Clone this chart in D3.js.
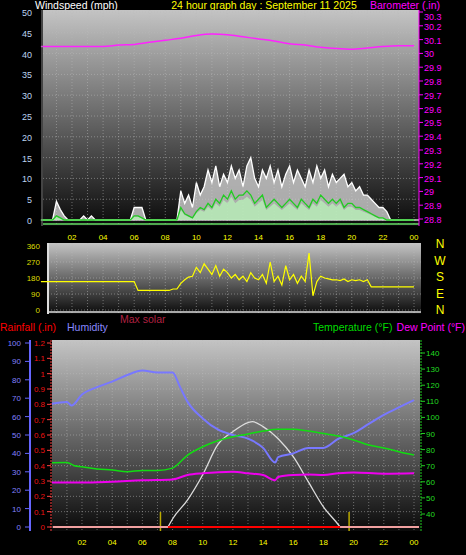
<!DOCTYPE html><html><head><meta charset="utf-8"><script src="https://cdn.jsdelivr.net/npm/d3@7"></script>
<style>body{margin:0;background:#000}svg{display:block}text{font-family:"Liberation Sans",Arial,sans-serif}</style></head><body>
<script>
const hourTicks=[2,4,6,8,10,12,14,16,18,20,22,24];
const hourLabels=["02","04","06","08","10","12","14","16","18","20","22","00"];
const windTicks=[0,5,10,15,20,25,30,35,40,45,50];
const baroTicks=[28.8,28.9,29,29.1,29.2,29.3,29.4,29.5,29.6,29.7,29.8,29.9,30,30.1,30.2,30.3];
const dirTicks=[0,90,180,270,360];
const humTicks=[0,10,20,30,40,50,60,70,80,90,100];
const rainTicks=[0,0.1,0.2,0.3,0.4,0.5,0.6,0.7,0.8,0.9,1,1.1,1.2];
const tempTicks=[40,50,60,70,80,90,100,110,120,130,140];
// quarter-hour wind (mph)
const gust=[0,0,0,0, 4.5,2.5,1,0, 0,0,0,1, 0,1,0,0, 0,0,0,0, 0,0,0,0, 3,3,3,0, 0,0,0,0, 0,0,0,0,
 7,4,6,3, 9,6,8,12, 9,13,8,11, 9,13,10,12, 8,13,15,10, 8,12,10,13, 9,12,8,11, 13,9,12,10, 8,12,9,13,
 10,12,8,11, 9,10,11,8, 9,7,8,6, 6,5,4,3, 3,2,0,0, 0,0,0,0, 0];
const avgWind=[0,0,0,0, 1,0.5,0,0, 0,0,0,0, 0,0,0,0, 0,0,0,0, 0,0,0,0, 1,1,0.5,0, 0,0,0,0, 0,0,0,0,
 3,1.5,1,0.5, 2,3,2.5,4, 3,5,4,6, 5,7,5,6, 6,7,6,4, 5,6,3,4, 5,4,3,4, 5,4,3,5, 4,3,5,4,
 6,5,4,5, 4,5,3,4, 4,3,3,2.5, 2,1.5,1,0.5, 0.5,0,0,0, 0,0,0,0, 0];
const windDir=[160,160,160,160, 160,160,160,160, 160,160,160,160, 160,160,160,160, 160,160,160,160, 160,160,160,160,
 160,110,110,110, 110,110,110,110, 110,110,118,118, 150,170,185,190, 240,210,260,230, 200,250,190,230,
 210,180,200,170, 190,160,210,180, 170,200,150,270, 160,190,140,250, 170,200,150,190, 160,320,80,160,
 190,180,175,170, 170,165,175,160, 170,165,170,160, 170,130,130,130, 130,130,130,130, 130,130,130,130, 130];
const baro=[30.05,30.05,30.05,30.05,30.05,30.06,30.065,30.08,30.095,30.11,30.13,30.14,30.135,30.12,30.105,30.09,30.07,30.06,30.045,30.035,30.03,30.04,30.05,30.055,30.055];
const humHours=[0,1,1.3,2,3,4,5,6,7,8,8.5,9,10,11,12,13,14,14.8,15,16,17,18,19,20,21,22,23,24];
const humidity=[67,68,66,72,76,79,82.6,85,84,84,76,68,59,53,50,48,43,35,38,40,43,43,48,51,56,61,65,69];
const tempHours=[0,1,1.5,2,3,4,5,6,7,8,9,10,11,12,13,14,15,16,17,18,19,20,21,22,23,24];
const temperature=[71.9,72,70,69.4,68,67.3,66.3,67,67,68.5,76.6,81.8,85.5,88,89.7,91.5,92.6,92.6,91.5,90,88.4,86,82.8,81,78.7,76.6];
const dewHours=[0,2,4,6,8,9,10,12,13,14,14.8,15,16,17,18,19,20,22,24];
const dewPoint=[59.5,59.5,60.1,61,61.5,64.2,65.3,66.3,65.3,64.2,61,63,64.2,64.5,64.2,65.3,65.8,65,65.3];
const solarHours=[7.7,8,9,10,11,12,13,13.3,14,15,16,17,18,19,19.1];
const solar=[0,48,162,312,492,570,624,630,600,528,420,270,120,12,0];
const sunMarks=[7.2,19.7];

const W=466,H=555;
const svg=d3.select("body").append("svg").attr("width",W).attr("height",H);
const defs=svg.append("defs");
const g=defs.append("linearGradient").attr("id","bg").attr("x1",0).attr("y1",0).attr("x2",0).attr("y2",1);
g.append("stop").attr("offset",0).attr("stop-color","#c4c4c4");
g.append("stop").attr("offset",1).attr("stop-color","#0a0a0a");
const qh=(a)=>a.map((v,i)=>[i/4,v]);
function txt(x,y,s,c,size,anchor){return svg.append("text").attr("x",x).attr("y",y).attr("fill",c).attr("font-size",size||11).attr("text-anchor",anchor||"start").text(s);}
function panel(x0,x1,y0,y1,xs,yTicks,ys){
 svg.append("rect").attr("x",x0).attr("y",y0).attr("width",x1-x0).attr("height",y1-y0).attr("fill","url(#bg)");
 const gg=svg.append("g").attr("stroke","#bbb").attr("stroke-opacity",0.5).attr("stroke-dasharray","1,2");
 for(let h=1;h<=24;h++){const x=xs(h);if(x>x0&&x<x1)gg.append("line").attr("x1",x).attr("x2",x).attr("y1",y0).attr("y2",y1);}
 yTicks.forEach(v=>gg.append("line").attr("x1",x0).attr("x2",x1).attr("y1",ys(v)).attr("y2",ys(v)));
}
// Titles
txt(35,9,"Windspeed (mph)","#fff",10.5);
txt(264,9,"24 hour graph day : September 11 2025","#ffff00",10.5,"middle");
txt(440,9,"Barometer (.in)","#ff00ff",10.5,"end");
// Panel 1
const x1=d3.scaleLinear().domain([0,24]).range([40.9,414]);
const yW=d3.scaleLinear().domain([0,50]).range([220,12]);
const yB=d3.scaleLinear().domain([28.8,30.3]).range([219,12]);
panel(43,419,10,226,x1,windTicks,yW);
svg.append("line").attr("x1",43).attr("x2",419).attr("y1",yW(0)).attr("y2",yW(0)).attr("stroke","#ccc").attr("stroke-width",1.5);
svg.append("line").attr("x1",43).attr("x2",419).attr("y1",224).attr("y2",224).attr("stroke","#66dd66").attr("stroke-width",1.5);
svg.append("path").datum(qh(gust)).attr("d",d3.area().x(d=>x1(d[0])).y0(yW(0)).y1(d=>yW(d[1]))).attr("fill","#d0d0d0").attr("opacity",0.8);
svg.append("path").datum(qh(gust)).attr("d",d3.line().x(d=>x1(d[0])).y(d=>yW(d[1]))).attr("fill","none").attr("stroke","#fff").attr("stroke-width",1.3);
svg.append("path").datum(qh(avgWind)).attr("d",d3.area().x(d=>x1(d[0])).y0(yW(0)).y1(d=>yW(d[1]*0.8))).attr("fill","#b8f0b8").attr("opacity",0.8);
svg.append("path").datum(qh(avgWind)).attr("d",d3.line().x(d=>x1(d[0])).y(d=>yW(d[1]))).attr("fill","none").attr("stroke","#22cc22").attr("stroke-width",1.3);
svg.append("path").datum(baro).attr("d",d3.line().x((d,i)=>x1(i)).y(d=>yB(d)).curve(d3.curveMonotoneX)).attr("fill","none").attr("stroke","#ff22ff").attr("stroke-width",1.5);
// axes panel 1
svg.append("line").attr("x1",42).attr("x2",42).attr("y1",10).attr("y2",226).attr("stroke","#888");
windTicks.forEach(v=>txt(32,yW(v)+4,v,"#bcd4f0",9,"end"));
svg.append("line").attr("x1",419).attr("x2",419).attr("y1",10).attr("y2",226).attr("stroke","#ff00ff");
baroTicks.forEach(v=>{svg.append("line").attr("x1",419).attr("x2",423).attr("y1",yB(v)).attr("y2",yB(v)).attr("stroke","#ff00ff");txt(424,Math.max(yB(v)+4,20),String(v),"#ff00ff",9);});
hourTicks.forEach((h,i)=>txt(x1(h),240,hourLabels[i],"#ffff00",8,"middle"));
// Panel 2
const yD=d3.scaleLinear().domain([0,360]).range([310,246]);
panel(48,421,243,314,x1,dirTicks,yD);
svg.append("line").attr("x1",48).attr("x2",421).attr("y1",312).attr("y2",312).attr("stroke","#ddd").attr("stroke-width",1.5);
svg.append("line").attr("x1",48).attr("x2",48).attr("y1",243).attr("y2",314).attr("stroke","#ddd").attr("stroke-width",2);
svg.append("path").datum(qh(windDir)).attr("d",d3.line().x(d=>x1(d[0])).y(d=>yD(d[1]))).attr("fill","none").attr("stroke","#ffff00").attr("stroke-width",1.2);
dirTicks.forEach(v=>txt(40,yD(v)+3,v,"#dddd00",8,"end"));
["N","W","S","E","N"].forEach((s,i)=>txt(440,248+i*16.5,s,"#ffff00",12,"middle"));
// Legend row
txt(0,331,"Rainfall (.in)","#ff0000",10.5);
txt(67,331,"Humidity","#8888ff",10.5);
txt(120,323,"Max solar","#b02040",10.5);
txt(313,331,"Temperature (°F)","#00dd00",10.5);
txt(465,331,"Dew Point (°F)","#ff00ff",10.5,"end");
// Panel 3
const x3=d3.scaleLinear().domain([0,24]).range([51.8,414]);
const yH=d3.scaleLinear().domain([0,100]).range([527,343]);
const yR=d3.scaleLinear().domain([0,1.2]).range([527,343]);
const yT=d3.scaleLinear().domain([40,140]).range([514,353]);
const yS=d3.scaleLinear().domain([0,1100]).range([527,343]);
panel(52,420,340,531,x3,rainTicks,yR);
svg.append("path").datum(solarHours.map((h,i)=>[h,solar[i]])).attr("d",d3.line().x(d=>x3(d[0])).y(d=>yS(d[1])).curve(d3.curveMonotoneX)).attr("fill","none").attr("stroke","#ddd").attr("stroke-width",1.3);
sunMarks.forEach(h=>svg.append("line").attr("x1",x3(h)).attr("x2",x3(h)).attr("y1",512).attr("y2",531).attr("stroke","#bbaa00").attr("stroke-width",1.5));
svg.append("line").attr("x1",53).attr("x2",419).attr("y1",yR(0)).attr("y2",yR(0)).attr("stroke","#f0a0a0").attr("stroke-width",2);
svg.append("line").attr("x1",x3(7.7)).attr("x2",x3(19.1)).attr("y1",yR(0)).attr("y2",yR(0)).attr("stroke","#ff0000").attr("stroke-width",2);
svg.append("path").datum(humHours.map((h,i)=>[h,humidity[i]])).attr("d",d3.line().x(d=>x3(d[0])).y(d=>yH(d[1])).curve(d3.curveMonotoneX)).attr("fill","none").attr("stroke","#7878ff").attr("stroke-width",2);
svg.append("path").datum(tempHours.map((h,i)=>[h,temperature[i]])).attr("d",d3.line().x(d=>x3(d[0])).y(d=>yT(d[1])).curve(d3.curveMonotoneX)).attr("fill","none").attr("stroke","#11dd11").attr("stroke-width",1.5);
svg.append("path").datum(dewHours.map((h,i)=>[h,dewPoint[i]])).attr("d",d3.line().x(d=>x3(d[0])).y(d=>yT(d[1])).curve(d3.curveMonotoneX)).attr("fill","none").attr("stroke","#ee00ee").attr("stroke-width",2);
// axes panel 3
svg.append("line").attr("x1",30).attr("x2",30).attr("y1",340).attr("y2",531).attr("stroke","#6666ff").attr("stroke-width",2);
humTicks.forEach(v=>{svg.append("line").attr("x1",25).attr("x2",30).attr("y1",yH(v)).attr("y2",yH(v)).attr("stroke","#6666ff");txt(21,yH(v)+3,v,"#8080ff",8,"end");});
svg.append("line").attr("x1",51).attr("x2",51).attr("y1",340).attr("y2",531).attr("stroke","#ff4444").attr("stroke-dasharray","2,1");
rainTicks.forEach(v=>{svg.append("line").attr("x1",47).attr("x2",51).attr("y1",yR(v)).attr("y2",yR(v)).attr("stroke","#ff4444");txt(45,yR(v)+3,String(v),"#ee1111",8,"end");});
svg.append("line").attr("x1",421).attr("x2",421).attr("y1",340).attr("y2",531).attr("stroke","#22cc22").attr("stroke-dasharray","2,1");
tempTicks.forEach(v=>{svg.append("line").attr("x1",421).attr("x2",425).attr("y1",yT(v)).attr("y2",yT(v)).attr("stroke","#22cc22");txt(426,yT(v)+3,v,"#22dd22",8);});
hourTicks.forEach((h,i)=>txt(x3(h),545,hourLabels[i],"#ffff00",8,"middle"));
</script></body></html>
